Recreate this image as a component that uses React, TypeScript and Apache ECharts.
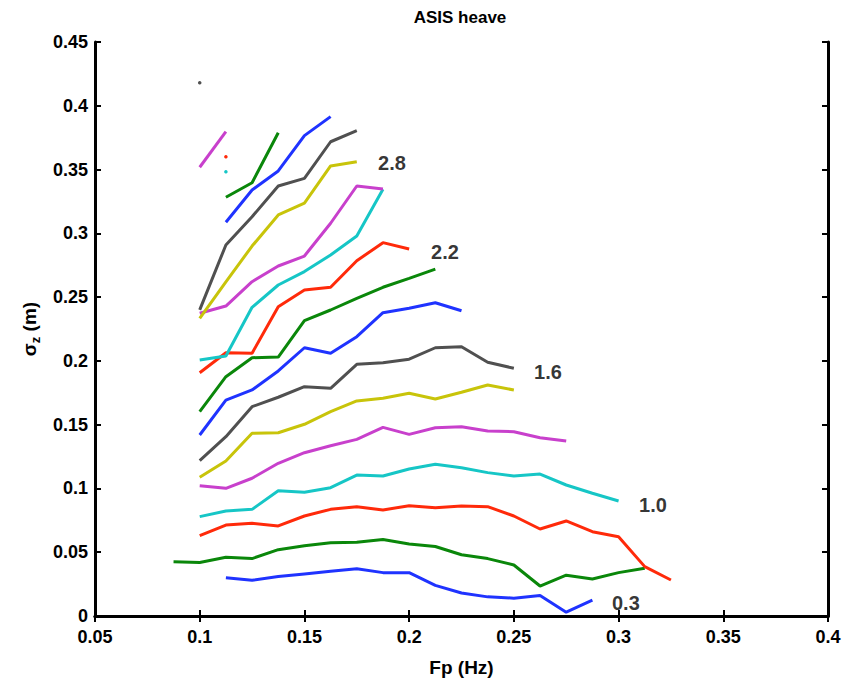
import React, { useEffect, useRef } from "react";
import * as echarts from "echarts";

// Frequency bins (Hz)
const freqs = [0.0875, 0.1, 0.1125, 0.125, 0.1375, 0.15, 0.1625, 0.175, 0.1875, 0.2, 0.2125, 0.225, 0.2375, 0.25, 0.2625, 0.275, 0.2875, 0.3, 0.3125, 0.325];

// sigma_z (m) per Hs class, aligned with freqs (null = no data)
const hs03 = [null, null, 0.030, 0.028, 0.031, 0.033, 0.035, 0.037, 0.034, 0.034, 0.024, 0.018, 0.015, 0.014, 0.016, 0.003, 0.0125];
const hs06 = [0.0425, 0.042, 0.046, 0.045, 0.052, 0.055, 0.0575, 0.0578, 0.060, 0.0565, 0.0545, 0.048, 0.045, 0.040, 0.0235, 0.032, 0.029, 0.034, 0.0375];
const hs08 = [null, 0.063, 0.0713, 0.0727, 0.0706, 0.0784, 0.0836, 0.0857, 0.0831, 0.0865, 0.0849, 0.0862, 0.0857, 0.0784, 0.0682, 0.0745, 0.0661, 0.0622, 0.0387, 0.0282];
const hs10 = [null, 0.0779, 0.0823, 0.0836, 0.0982, 0.097, 0.1006, 0.1105, 0.1098, 0.1152, 0.1189, 0.1163, 0.1124, 0.1098, 0.1113, 0.1027, 0.0962, 0.0902];
const hs12 = [null, 0.1022, 0.1001, 0.108, 0.1197, 0.128, 0.1335, 0.1385, 0.1479, 0.1424, 0.1476, 0.1484, 0.145, 0.1445, 0.1398, 0.1372];
const hs14 = [null, 0.1087, 0.1215, 0.1432, 0.1437, 0.1503, 0.1602, 0.1686, 0.1707, 0.1746, 0.1701, 0.1754, 0.1811, 0.1772];
const hs16 = [null, 0.1218, 0.1406, 0.1641, 0.1715, 0.1798, 0.1785, 0.1973, 0.1986, 0.2013, 0.2103, 0.2111, 0.1989, 0.1942];
const hs18 = [null, 0.1419, 0.1693, 0.1772, 0.1921, 0.2103, 0.206, 0.219, 0.2378, 0.2412, 0.2456, 0.2393];
const hs20 = [null, 0.1602, 0.1876, 0.2025, 0.203, 0.2315, 0.2399, 0.2491, 0.2577, 0.2647, 0.272];
const hs22 = [null, 0.1907, 0.2064, 0.206, 0.2425, 0.2556, 0.2577, 0.2785, 0.2927, 0.2877];
const hs24 = [null, 0.2007, 0.2038, 0.242, 0.2595, 0.27, 0.283, 0.2979, 0.3345];
const hs26 = [null, 0.2373, 0.243, 0.2621, 0.2744, 0.2822, 0.3079, 0.3371, 0.3348];
const hs28 = [null, 0.2334, 0.262, 0.29, 0.3144, 0.3236, 0.3528, 0.3562];
const hs30 = [null, 0.24, 0.2909, 0.313, 0.3371, 0.3431, 0.3718, 0.3805];
const hs32 = [null, null, 0.3087, 0.334, 0.3489, 0.3766, 0.3915];
const hs34 = [null, null, 0.3283, 0.3397, 0.3789];
const hs36 = [null, null, 0.3601];
const hs38 = [null, null, 0.3483];
const hs40 = [null, 0.3518, 0.3797];
const hs44 = [null, 0.4181];

const seriesNames = ["0.3", "0.6", "0.8", "1.0", "1.2", "1.4", "1.6", "1.8", "2.0", "2.2", "2.4", "2.6", "2.8", "3.0", "3.2", "3.4", "3.6", "3.8", "4.0", "4.4"];
const seriesValues = [hs03, hs06, hs08, hs10, hs12, hs14, hs16, hs18, hs20, hs22, hs24, hs26, hs28, hs30, hs32, hs34, hs36, hs38, hs40, hs44];
const seriesColors = ["#1f33ff", "#0a870a", "#ff2a0a", "#16c6c6", "#c840cc", "#c8c40a", "#505050", "#1f33ff", "#0a870a", "#ff2a0a", "#16c6c6", "#c840cc", "#c8c40a", "#505050", "#1f33ff", "#0a870a", "#ff2a0a", "#16c6c6", "#c840cc", "#505050"];

// Contour-style annotations (Hs labels)
const labelTexts = ["2.8", "2.2", "1.6", "1.0", "0.3"];
const labelFreqs = [0.1918, 0.2171, 0.2663, 0.3164, 0.3035];
const labelSigmas = [0.3552, 0.2854, 0.1913, 0.087, 0.0102];

const xTicks = { min: 0.05, max: 0.4, interval: 0.05 };
const yTicks = { min: 0, max: 0.45, interval: 0.05 };

const FONT = "'Liberation Sans', Arial, sans-serif";

export default function App() {
  const ref = useRef<HTMLDivElement>(null);

  useEffect(() => {
    if (!ref.current) return;
    const chart = echarts.init(ref.current, undefined, { renderer: "svg" });

    const lineSeries = seriesValues.map((vals, i) => {
      const data: [number, number][] = [];
      vals.forEach((v, j) => {
        if (v !== null && v !== undefined) data.push([freqs[j], v as number]);
      });
      const single = data.length === 1;
      return {
        type: "line",
        name: seriesNames[i],
        data,
        showSymbol: single,
        symbol: "circle",
        symbolSize: 3.5,
        lineStyle: { color: seriesColors[i], width: 3 },
        itemStyle: { color: seriesColors[i], borderWidth: 0 },
        silent: true,
        z: 3,
      };
    });

    const labelSeries = {
      type: "scatter",
      symbolSize: 0,
      silent: true,
      data: labelTexts.map((t, i) => ({ name: t, value: [labelFreqs[i], labelSigmas[i]] })),
      label: {
        show: true,
        position: "inside",
        formatter: (p: any) => p.name,
        color: "#000",
        fontFamily: FONT,
        fontWeight: "bold",
        fontSize: 20,
      },
      z: 5,
    };

    const axisCommon = {
      axisLine: { show: true, lineStyle: { color: "#000", width: 3 } },
      axisTick: { show: true, inside: true, length: 6, lineStyle: { color: "#000", width: 2 } },
      splitLine: { show: false },
    };

    chart.setOption({
      animation: false,
      backgroundColor: "#fff",
      title: {
        text: "ASIS heave",
        left: 455,
        textAlign: "center",
        top: 4,
        textStyle: { fontFamily: FONT, fontWeight: "bold", fontSize: 17, color: "#000" },
      },
      grid: { left: 95, right: 18, top: 42, bottom: 72, containLabel: false },
      xAxis: [
        {
          type: "value",
          ...xTicks,
          position: "bottom",
          ...axisCommon,
          axisLabel: {
            color: "#000",
            fontFamily: FONT,
            fontWeight: "bold",
            fontSize: 18,
            margin: 12,
            formatter: (v: number) => String(parseFloat(v.toFixed(2))),
          },
          name: "Fp (Hz)",
          nameLocation: "middle",
          nameGap: 42,
          nameTextStyle: { color: "#000", fontFamily: FONT, fontWeight: "bold", fontSize: 19 },
        },
        {
          type: "value",
          ...xTicks,
          position: "top",
          ...axisCommon,
          axisLabel: { show: false },
        },
      ],
      yAxis: [
        {
          type: "value",
          ...yTicks,
          position: "left",
          ...axisCommon,
          axisLabel: {
            color: "#000",
            fontFamily: FONT,
            fontWeight: "bold",
            fontSize: 18,
            margin: 7,
            formatter: (v: number) => String(parseFloat(v.toFixed(2))),
          },
          name: "{a|σ}{b|z}{a| (m)}",
          nameLocation: "middle",
          nameRotate: 90,
          nameGap: 50,
          nameTextStyle: {
            color: "#000",
            fontFamily: FONT,
            fontWeight: "bold",
            fontSize: 19,
            rich: {
              a: { fontFamily: FONT, fontWeight: "bold", fontSize: 19, color: "#000", lineHeight: 26, verticalAlign: "middle" },
              b: { fontFamily: FONT, fontWeight: "bold", fontSize: 13, color: "#000", lineHeight: 26, verticalAlign: "bottom", padding: [9, 0, 0, 0] },
            },
          },
        },
        {
          type: "value",
          ...yTicks,
          position: "right",
          ...axisCommon,
          axisLabel: { show: false },
        },
      ],
      series: [...lineSeries, labelSeries],
    });

    return () => chart.dispose();
  }, []);

  return <div ref={ref} style={{ position: "absolute", left: 0, top: 0, width: 846, height: 688 }} />;
}
